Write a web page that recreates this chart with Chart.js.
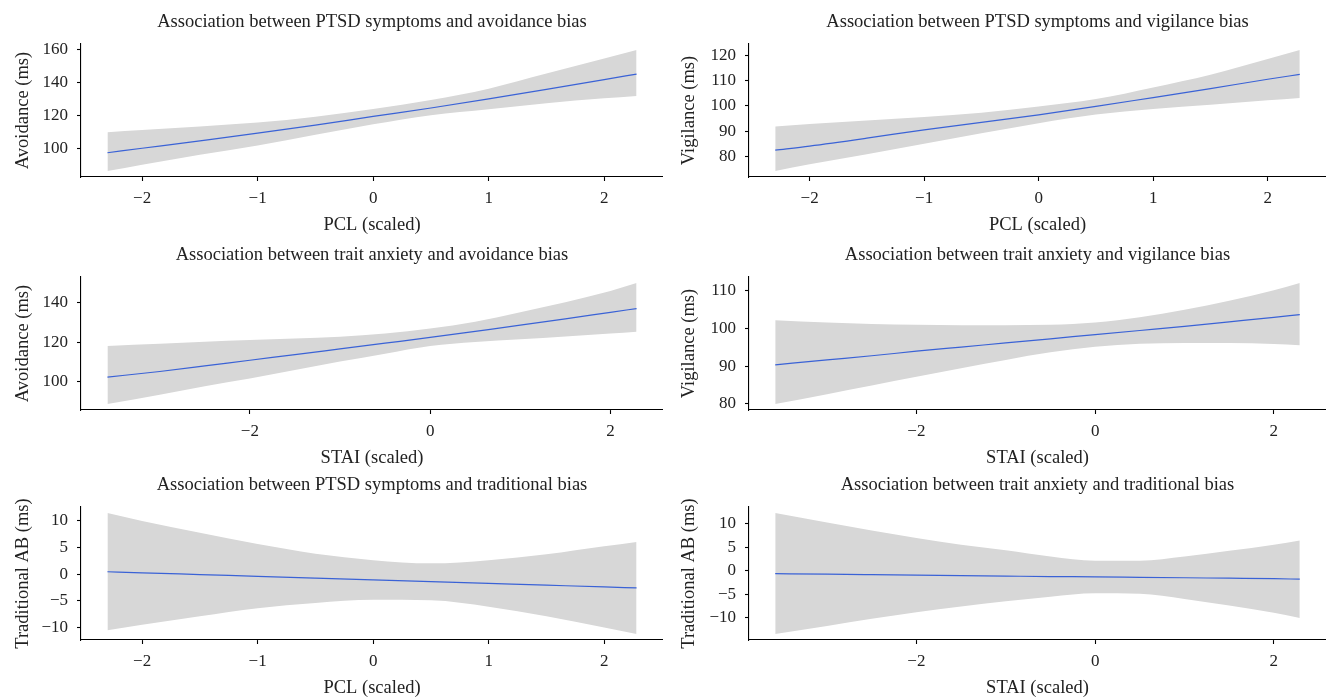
<!DOCTYPE html>
<html>
<head>
<meta charset="utf-8">
<script src="https://cdn.jsdelivr.net/npm/chart.js@4.4.1/dist/chart.umd.min.js"></script>
<style>
  body { margin: 0; background: #fff; overflow: hidden; }
  #wrap { position: relative; width: 1326px; height: 697px; }
  canvas { position: absolute; }
</style>
</head>
<body>
<div id="wrap">
  <canvas id="c1" width="663" height="240" style="left:0;top:0"></canvas>
  <canvas id="c2" width="663" height="240" style="left:663px;top:0"></canvas>
  <canvas id="c3" width="663" height="240" style="left:0;top:233px"></canvas>
  <canvas id="c4" width="663" height="240" style="left:663px;top:233px"></canvas>
  <canvas id="c5" width="663" height="240" style="left:0;top:463px"></canvas>
  <canvas id="c6" width="663" height="240" style="left:663px;top:463px"></canvas>
</div>
<script>
// x grids (scaled scores)
const pclX  = [-2.3, -2, -1.5, -1, -0.5, 0, 0.5, 1, 1.5, 2, 2.28]
const staiX = [-3.58, -3, -2.5, -2, -1.5, -1, -0.5, 0, 0.5, 1, 1.5, 2, 2.29]

const pclTicks  = [-2, -1, 0, 1, 2]
const staiTicks = [-2, 0, 2]

// PTSD -> avoidance
const avoidPclFit = [97.6, 100.3, 104.8, 109.4, 114.3, 119.5, 124.6, 130.1, 135.8, 141.7, 145.1]
const avoidPclHi  = [110, 111.3, 113.5, 115.8, 119.4, 124, 129.4, 136.3, 145.4, 154.5, 159.6]
const avoidPclLo  = [86.6, 90.4, 96.4, 102, 108.4, 114.8, 120.3, 123.9, 127.5, 130.5, 131.9]

// PTSD -> vigilance
const vigPclFit = [82.6, 84.2, 87.3, 90.6, 93.5, 96.5, 99.8, 103.3, 106.8, 110.5, 112.4]
const vigPclHi  = [91.9, 92.9, 94.3, 95.6, 97.3, 99.8, 102.7, 107.3, 112.3, 118.5, 122]
const vigPclLo  = [74.4, 77, 81, 85.1, 89.2, 93.2, 96.6, 98.8, 100.5, 102.2, 103.1]

// trait anxiety -> avoidance
const avoidStaiFit = [102.5, 105.3, 108.1, 111, 113.8, 116.7, 119.6, 122.5, 125.6, 128.7, 131.9, 135.2, 137.1]
const avoidStaiHi  = [118.2, 119.3, 120.3, 121.2, 122, 122.9, 124.5, 127, 130.5, 135.3, 140.3, 146, 150]
const avoidStaiLo  = [88.9, 93.6, 97.8, 101.7, 106, 110.3, 114.3, 118.2, 120.2, 121.6, 123, 124.5, 125.4]

// trait anxiety -> vigilance
const vigStaiFit = [90.4, 91.7, 92.8, 94, 95.1, 96.2, 97.3, 98.4, 99.5, 100.6, 101.8, 103, 103.7]
const vigStaiHi  = [102.2, 101.6, 101.2, 101, 100.9, 100.9, 101, 101.6, 103, 105, 107.4, 110.2, 112.1]
const vigStaiLo  = [80, 82.6, 84.9, 87.2, 89.5, 91.7, 93.7, 95.2, 96, 96.2, 96.2, 95.9, 95.6]

// PTSD -> traditional AB
const tradPclFit = [0.43, 0.23, -0.1, -0.43, -0.76, -1.09, -1.42, -1.75, -2.08, -2.41, -2.6]
const tradPclHi  = [11.4, 9.9, 7.7, 5.6, 3.8, 2.6, 2.0, 2.6, 3.7, 5.2, 6.0]
const tradPclLo  = [-10.5, -9.5, -7.9, -6.4, -5.4, -4.8, -4.9, -6.1, -7.9, -10, -11.2]

// trait anxiety -> traditional AB
const tradStaiFit = [-0.63, -0.75, -0.85, -0.95, -1.05, -1.15, -1.25, -1.3, -1.4, -1.5, -1.6, -1.7, -1.8]
const tradStaiHi  = [12.2, 10.2, 8.5, 6.9, 5.5, 4.3, 3.0, 2.1, 2.1, 3.0, 4.2, 5.5, 6.4]
const tradStaiLo  = [-13.4, -11.7, -10.2, -8.8, -7.6, -6.5, -5.5, -4.8, -4.9, -6.0, -7.4, -8.9, -10.0]

const FONT = '"Liberation Serif", "DejaVu Serif", serif'
const TEXT = '#222'

Chart.defaults.font.family = FONT
Chart.defaults.color = TEXT

const fmt = v => v < 0 ? '\u2212' + Math.abs(v) : String(v)

// ggplot-style 5% expansion of the data range
const expand = (lo, hi) => {
    const d = (hi - lo) * 0.05
    return [lo - d, hi + d]
}

const pts = (xs, ys) => xs.map((x, i) => ({ x: x, y: ys[i] }))

const axisLine = { color: '#000', width: 1.1 }
const tickMarks = { display: true, drawOnChartArea: false, tickLength: 4, tickWidth: 1.1, color: '#000' }

const panel = (id, cfg) => {

    const [xMin, xMax] = expand(Math.min(...cfg.x), Math.max(...cfg.x))
    const [yMin, yMax] = expand(Math.min(...cfg.lo), Math.max(...cfg.hi))

    new Chart(document.getElementById(id), {
        type: 'line',
        data: {
            datasets: [
                {
                    data: pts(cfg.x, cfg.fit),
                    borderColor: '#3a62d6',
                    borderWidth: 1.2,
                    pointRadius: 0,
                    fill: false,
                    cubicInterpolationMode: 'monotone'
                },
                {
                    data: pts(cfg.x, cfg.hi),
                    borderWidth: 0,
                    pointRadius: 0,
                    backgroundColor: '#d7d7d7',
                    fill: '+1',
                    cubicInterpolationMode: 'monotone'
                },
                {
                    data: pts(cfg.x, cfg.lo),
                    borderWidth: 0,
                    pointRadius: 0,
                    fill: false,
                    cubicInterpolationMode: 'monotone'
                }
            ]
        },
        options: {
            responsive: false,
            animation: false,
            devicePixelRatio: 1,
            layout: { padding: 0 },
            plugins: {
                legend: { display: false },
                tooltip: { enabled: false },
                title: {
                    display: true,
                    text: cfg.title,
                    fullSize: false,
                    color: TEXT,
                    font: { size: 18.5, weight: 'normal' },
                    padding: { top: 11.5, bottom: 10.3 }
                }
            },
            scales: {
                x: {
                    type: 'linear',
                    min: xMin,
                    max: xMax,
                    afterBuildTicks: s => { s.ticks = cfg.xTicks.map(v => ({ value: v })) },
                    afterFit: s => { s.height = 63 },
                    border: axisLine,
                    grid: tickMarks,
                    ticks: { font: { size: 17 }, color: TEXT, padding: 7, callback: fmt, maxRotation: 0 },
                    title: { display: true, text: cfg.xTitle, font: { size: 18.5 }, color: TEXT, padding: { top: 0, bottom: 3.5 } }
                },
                y: {
                    min: yMin,
                    max: yMax,
                    afterBuildTicks: s => { s.ticks = cfg.yTicks.map(v => ({ value: v })) },
                    afterFit: s => { s.width = cfg.yWidth },
                    border: axisLine,
                    grid: tickMarks,
                    ticks: { font: { size: 17 }, color: TEXT, padding: 9, callback: fmt },
                    title: { display: true, text: cfg.yTitle, font: { size: 18.5 }, color: TEXT, padding: { top: cfg.yTitlePad, bottom: 0 } }
                }
            }
        }
    })
}

panel('c1', {
    title: 'Association between PTSD symptoms and avoidance bias',
    x: pclX, fit: avoidPclFit, hi: avoidPclHi, lo: avoidPclLo,
    xTicks: pclTicks, yTicks: [100, 120, 140, 160],
    xTitle: 'PCL (scaled)', yTitle: 'Avoidance (ms)', yWidth: 81, yTitlePad: 12
})

panel('c2', {
    title: 'Association between PTSD symptoms and vigilance bias',
    x: pclX, fit: vigPclFit, hi: vigPclHi, lo: vigPclLo,
    xTicks: pclTicks, yTicks: [80, 90, 100, 110, 120],
    xTitle: 'PCL (scaled)', yTitle: 'Vigilance (ms)', yWidth: 86, yTitlePad: 15
})

panel('c3', {
    title: 'Association between trait anxiety and avoidance bias',
    x: staiX, fit: avoidStaiFit, hi: avoidStaiHi, lo: avoidStaiLo,
    xTicks: staiTicks, yTicks: [100, 120, 140],
    xTitle: 'STAI (scaled)', yTitle: 'Avoidance (ms)', yWidth: 81, yTitlePad: 12
})

panel('c4', {
    title: 'Association between trait anxiety and vigilance bias',
    x: staiX, fit: vigStaiFit, hi: vigStaiHi, lo: vigStaiLo,
    xTicks: staiTicks, yTicks: [80, 90, 100, 110],
    xTitle: 'STAI (scaled)', yTitle: 'Vigilance (ms)', yWidth: 86, yTitlePad: 15
})

panel('c5', {
    title: 'Association between PTSD symptoms and traditional bias',
    x: pclX, fit: tradPclFit, hi: tradPclHi, lo: tradPclLo,
    xTicks: pclTicks, yTicks: [-10, -5, 0, 5, 10],
    xTitle: 'PCL (scaled)', yTitle: 'Traditional AB (ms)', yWidth: 81, yTitlePad: 12
})

panel('c6', {
    title: 'Association between trait anxiety and traditional bias',
    x: staiX, fit: tradStaiFit, hi: tradStaiHi, lo: tradStaiLo,
    xTicks: staiTicks, yTicks: [-10, -5, 0, 5, 10],
    xTitle: 'STAI (scaled)', yTitle: 'Traditional AB (ms)', yWidth: 86, yTitlePad: 15
})
</script>
</body>
</html>
